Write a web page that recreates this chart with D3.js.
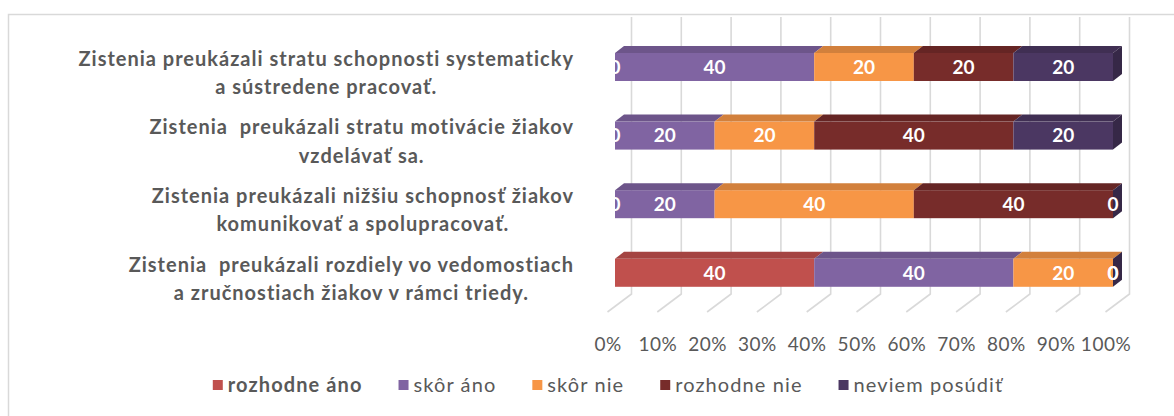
<!DOCTYPE html>
<html>
<head>
<meta charset="utf-8">
<script src="https://cdn.jsdelivr.net/npm/d3@7"></script>
<style>
  body { margin: 0; background: #fff; }
  svg text { font-family: Lato, "Open Sans", sans-serif; white-space: pre; }
</style>
</head>
<body>
<div id="chart"></div>
<script>
// kategórie (každá po riadkoch, ako v obrázku)
var categories = [
    ["Zistenia preukázali stratu schopnosti systematicky", "a sústredene pracovať."],
    ["Zistenia  preukázali stratu motivácie žiakov", "vzdelávať sa."],
    ["Zistenia preukázali nižšiu schopnosť žiakov", "komunikovať a spolupracovať."],
    ["Zistenia  preukázali rozdiely vo vedomostiach", "a zručnostiach žiakov v rámci triedy."]
];

var seriesNames = ["rozhodne áno", "skôr áno", "skôr nie", "rozhodne nie", "neviem posúdiť"];
var seriesColors = ["#c0504d", "#8064a2", "#f79646", "#772c2a", "#4b3762"];

// hodnoty v %
var rozhodneAno   = [0, 0, 0, 40];
var skorAno       = [40, 20, 20, 40];
var skorNie       = [20, 20, 40, 20];
var rozhodneNie   = [20, 40, 40, 0];
var neviemPosudit = [20, 20, 0, 0];

var tickValues = [0, 10, 20, 30, 40, 50, 60, 70, 80, 90, 100];

var seriesValues = [rozhodneAno, skorAno, skorNie, rozhodneNie, neviemPosudit];

// tabuľka pre d3.stack
var table = categories.map(function(c, i) {
    var row = { key: i };
    seriesNames.forEach(function(s, j) { row[s] = seriesValues[j][i]; });
    return row;
});

var width = 1174, height = 416;
var depthX = 9, depthY = 7;     // 3D hĺbka stĺpcov
var wallX = 16.5, floorX = -7.5; // posun zadnej steny / prednej hrany podlahy
var wallTop = 17, wallBottom = 294, floorFront = 312;

var svg = d3.select("#chart")
    .append("svg")
    .attr("width", width)
    .attr("height", height);

// rámik grafu
svg.append("rect")
    .attr("x", 8.5)
    .attr("y", 14.5)
    .attr("width", width + 10)
    .attr("height", height)
    .style("fill", "none")
    .style("stroke", "#d9d9d9")
    .style("stroke-width", 1.5);

var x = d3.scaleLinear()
    .domain([0, 100])
    .range([615, 1113]);

var y = d3.scaleBand()
    .domain(d3.range(categories.length))
    .range([32.7, 307.1])
    .paddingInner(0.592)
    .paddingOuter(0.296);

// mriežka na zadnej stene + podlahe
var grid = svg.append("g").attr("class", "grid");
grid.selectAll("path")
    .data(tickValues)
    .enter().append("path")
    .attr("d", function(d) {
        return "M" + (x(d) + wallX) + "," + wallTop +
               "L" + (x(d) + wallX) + "," + wallBottom +
               "L" + (x(d) + floorX) + "," + floorFront;
    })
    .style("fill", "none")
    .style("stroke", "#d9d9d9")
    .style("stroke-width", 1.6);

// os X
var xAxis = d3.axisBottom(x)
    .tickValues(tickValues)
    .tickSize(0)
    .tickPadding(26)
    .tickFormat(function(d) { return d + "%"; });

var axisG = svg.append("g")
    .attr("transform", "translate(" + floorX + "," + floorFront + ")")
    .call(xAxis);
axisG.select(".domain").remove();
axisG.selectAll("text")
    .style("font-family", "Lato, sans-serif")
    .style("font-size", "19px")
    .style("letter-spacing", "0.5px")
    .style("fill", "#595959");

var stacked = d3.stack().keys(seriesNames)(table);

// stĺpce s 3D efektom
var bars = svg.append("g").attr("class", "bars");

stacked.forEach(function(layer, j) {
    var color = seriesColors[j];
    var g = bars.append("g");

    g.selectAll("rect")
        .data(layer)
        .enter().append("rect")
        .attr("x", function(d) { return x(d[0]); })
        .attr("y", function(d) { return y(d.data.key); })
        .attr("width", function(d) { return x(d[1]) - x(d[0]); })
        .attr("height", y.bandwidth())
        .style("fill", color);

    g.selectAll("path.top")
        .data(layer.filter(function(d) { return d[1] > d[0]; }))
        .enter().append("path")
        .attr("class", "top")
        .attr("d", function(d) {
            var x0 = x(d[0]), x1 = x(d[1]), yy = y(d.data.key);
            return "M" + x0 + "," + yy +
                   "L" + (x0 + depthX) + "," + (yy - depthY) +
                   "L" + (x1 + depthX) + "," + (yy - depthY) +
                   "L" + x1 + "," + yy + "Z";
        })
        .style("fill", d3.color(color).darker(0.45));
});

// bočná stena na konci každého stĺpca (farba poslednej série)
bars.selectAll("path.side")
    .data(table)
    .enter().append("path")
    .attr("class", "side")
    .attr("d", function(d) {
        var x1 = x(100), yy = y(d.key), h = y.bandwidth();
        return "M" + x1 + "," + yy +
               "L" + (x1 + depthX) + "," + (yy - depthY) +
               "L" + (x1 + depthX) + "," + (yy + h - depthY) +
               "L" + x1 + "," + (yy + h) + "Z";
    })
    .style("fill", d3.color(seriesColors[seriesColors.length - 1]).darker(0.9));

// popisky hodnôt
stacked.forEach(function(layer) {
    bars.append("g").selectAll("text")
        .data(layer)
        .enter().append("text")
        .attr("x", function(d) { return (x(d[0]) + x(d[1])) / 2; })
        .attr("y", function(d) { return y(d.data.key) + y.bandwidth() / 2; })
        .attr("dy", "0.36em")
        .style("text-anchor", "middle")
        .style("font-size", "19px")
        .style("font-weight", "bold")
        .style("fill", "#fff")
        .text(function(d) { return d[1] - d[0]; });
});

// popisky kategórií - riadky centrované, blok zarovnaný vpravo
var labelRight = 574, lineGap = 28.5, labelShift = 6;
categories.forEach(function(lines, i) {
    var g = svg.append("g");
    var cy = y(i) + y.bandwidth() / 2 + labelShift;
    var texts = g.selectAll("text")
        .data(lines)
        .enter().append("text")
        .attr("y", function(d, k) { return cy + (k - (lines.length - 1) / 2) * lineGap; })
        .attr("dy", "0.35em")
        .style("text-anchor", "middle")
        .style("font-size", "20px")
        .style("letter-spacing", "1px")
        .style("font-weight", "bold")
        .style("fill", "#595959")
        .text(function(d) { return d; });
    var maxW = d3.max(texts.nodes(), function(n) { return n.getComputedTextLength(); });
    texts.attr("x", labelRight - maxW / 2);
});

// legenda
var legend = svg.append("g");
var item = legend.selectAll("g")
    .data(seriesNames)
    .enter().append("g");

item.append("rect")
    .attr("width", 10)
    .attr("height", 10)
    .attr("y", -5)
    .style("fill", function(d, i) { return seriesColors[i]; });

item.append("text")
    .attr("x", 15)
    .attr("dy", "0.35em")
    .style("font-size", "20px")
    .style("letter-spacing", "1.1px")
    .style("font-weight", function(d, i) { return i == 0 ? "bold" : "normal"; })
    .style("fill", "#595959")
    .text(function(d) { return d; });

var pos = 0, gap = 36;
item.each(function() {
    var w = 15 + d3.select(this).select("text").node().getComputedTextLength();
    d3.select(this).attr("transform", "translate(" + pos + ",0)");
    pos += w + gap;
});
var legendW = pos - gap;
legend.attr("transform", "translate(" + (608 - legendW / 2) + ",385)");
</script>
</body>
</html>
